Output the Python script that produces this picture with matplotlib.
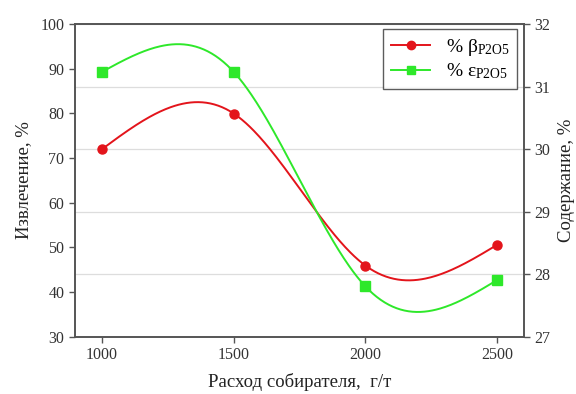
import numpy as np
import matplotlib
matplotlib.use("Agg")
import matplotlib.pyplot as plt

# Data
rashod = [1000, 1500, 2000, 2500]
beta_p2o5 = [30.0, 30.57, 28.14, 28.47]      # Содержание, % (right axis)
eps_p2o5 = [89.3, 89.3, 41.3, 42.7]          # Извлечение, % (left axis)
x_ticks = [1000, 1500, 2000, 2500]
left_ticks = [30, 40, 50, 60, 70, 80, 90, 100]
right_ticks = [27, 28, 29, 30, 31, 32]


def natural_spline(x, y, n=300):
    x = np.asarray(x, float)
    y = np.asarray(y, float)
    k = len(x)
    h = np.diff(x)
    A = np.zeros((k, k))
    b = np.zeros(k)
    A[0, 0] = 1
    A[-1, -1] = 1
    for i in range(1, k - 1):
        A[i, i - 1] = h[i - 1]
        A[i, i] = 2 * (h[i - 1] + h[i])
        A[i, i + 1] = h[i]
        b[i] = 6 * ((y[i + 1] - y[i]) / h[i] - (y[i] - y[i - 1]) / h[i - 1])
    M = np.linalg.solve(A, b)
    xs = np.linspace(x[0], x[-1], n)
    ys = np.empty_like(xs)
    for j, xv in enumerate(xs):
        i = min(np.searchsorted(x, xv, side="right") - 1, k - 2)
        hi = h[i]
        a = (x[i + 1] - xv) / hi
        bb = (xv - x[i]) / hi
        ys[j] = (a * y[i] + bb * y[i + 1]
                 + ((a ** 3 - a) * M[i] + (bb ** 3 - bb) * M[i + 1]) * hi ** 2 / 6)
    return xs, ys


plt.rcParams['font.family'] = ['Liberation Serif', 'DejaVu Serif']
plt.rcParams['mathtext.fontset'] = 'custom'
plt.rcParams['mathtext.rm'] = 'Liberation Serif'
plt.rcParams['mathtext.it'] = 'Liberation Serif'

fig = plt.figure(figsize=(5.76, 3.94), dpi=100)
ax = fig.add_axes([0.130, 0.145, 0.780, 0.794])
ax2 = ax.twinx()

red = '#e3141b'
green = '#2ee82a'
spine_c = '#555555'

xs, ys = natural_spline(rashod, beta_p2o5)
ax2.plot(xs, ys, color=red, lw=1.4, zorder=3)
ax2.plot(rashod, beta_p2o5, 'o', color=red, ms=6.5, zorder=4)

xs, ys = natural_spline(rashod, eps_p2o5)
ax.plot(xs, ys, color=green, lw=1.4, zorder=3)
ax.plot(rashod, eps_p2o5, 's', color=green, ms=6.5, zorder=4)

ax.set_xlim(897, 2603)
ax.set_ylim(30, 100)
ax2.set_ylim(27, 32)
ax.set_xticks(x_ticks)
ax.set_yticks(left_ticks)
ax2.set_yticks(right_ticks)
ax2.grid(True, axis='y', color='#dddddd', lw=0.9, zorder=0)
ax.set_zorder(ax2.get_zorder() + 1)
ax.patch.set_visible(False)

for a in (ax, ax2):
    for s in a.spines.values():
        s.set_color(spine_c)
        s.set_linewidth(1.2)
    a.tick_params(colors=spine_c, labelcolor='#333333', labelsize=11.5,
                  direction='out', length=4, width=1)

ax.set_xlabel('Расход собирателя,  г/т', fontsize=13.5, color='#222222', labelpad=7)
ax.set_ylabel('Извлечение, %', fontsize=13.5, color='#222222', labelpad=6)
ax2.set_ylabel('Содержание, %', fontsize=13.5, color='#222222', labelpad=5)

h1 = plt.Line2D([], [], color=red, marker='o', ms=6, lw=1.4)
h2 = plt.Line2D([], [], color=green, marker='s', ms=6, lw=1.4)
leg = ax.legend([h1, h2], [r'% $\beta_{\mathrm{P2O5}}$', r'% $\varepsilon_{\mathrm{P2O5}}$'],
                loc='upper right', bbox_to_anchor=(0.984, 0.984), borderaxespad=0,
                fontsize=14, frameon=True, fancybox=False, edgecolor='#333333',
                handlelength=2.0, borderpad=0.4, labelspacing=0.2)
leg.get_frame().set_linewidth(1.0)

fig.savefig('out.png', dpi=100)
